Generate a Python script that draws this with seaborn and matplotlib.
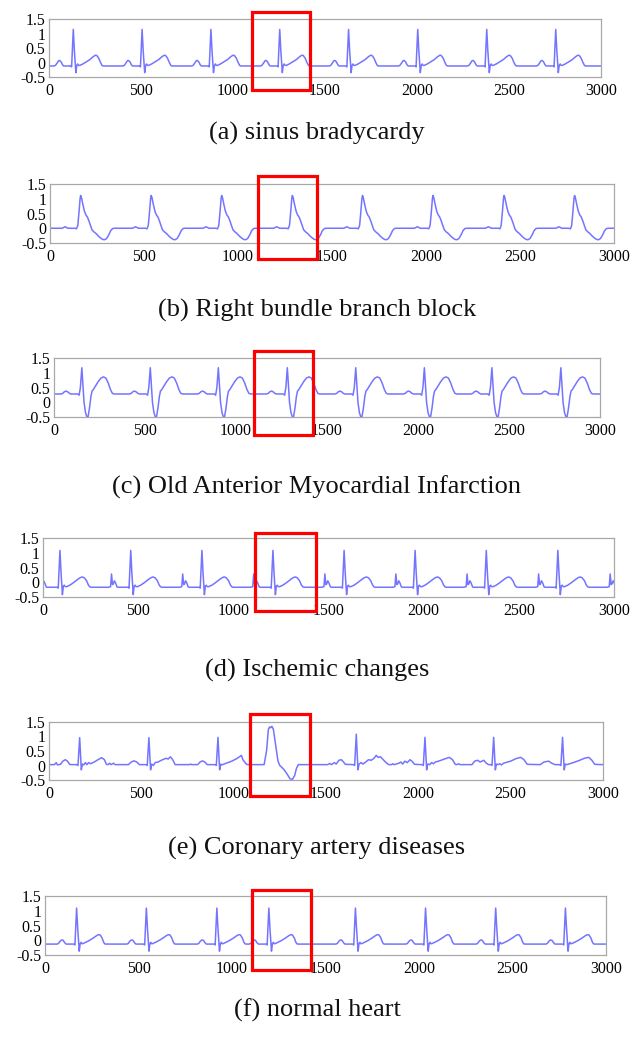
import numpy as np
import pandas as pd
import matplotlib
matplotlib.use("Agg")
import matplotlib.pyplot as plt
import seaborn as sns
from matplotlib.patches import Rectangle

# ---------------- data ----------------
captions = ["(a) sinus bradycardy", "(b) Right bundle branch block",
            "(c) Old Anterior Myocardial Infarction", "(d) Ischemic changes",
            "(e) Coronary artery diseases", "(f) normal heart"]
x_ticks = [0, 500, 1000, 1500, 2000, 2500, 3000]
x_tick_labels = ["0", "500", "1000", "1500", "2000", "2500", "3000"]
y_ticks = [-0.5, 0, 0.5, 1, 1.5]
y_tick_labels = ["-0.5", "0", "0.5", "1", "1.5"]

# (a) sinus bradycardy: R-peak positions and one-beat shape (offset from R, amplitude)
beats_a = [132, 506, 880, 1254, 1628, 2004, 2379, 2754]
beat_a_dx = [-105, -97, -88, -80, -74, -66, -58, -52, -14, -9, 0, 6, 14, 19, 24, 29, 35, 52, 70, 90, 108, 120, 128, 138, 148, 156, 162]
beat_a_y = [-0.12, -0.1, -0.02, 0.06, 0.07, 0.02, -0.08, -0.12, -0.12, -0.15, 1.14, 0.4, -0.35, -0.1, -0.05, -0.1, -0.1, -0.05, 0.02, 0.1, 0.2, 0.25, 0.24, 0.15, 0.0, -0.1, -0.12]
base_a = -0.12

# (b) right bundle branch block
beats_b = [163, 538, 913, 1289, 1662, 2037, 2415, 2790]
beat_b_dx = [-100, -92, -84, -76, -68, -30, -22, -15, -8, -3, 0, 4, 12, 20, 28, 36, 44, 52, 60, 70, 82, 95, 108, 118, 127, 138, 150, 160, 170, 180]
beat_b_y = [0.0, 0.02, 0.05, 0.03, 0.0, 0.0, -0.02, 0.1, 0.6, 1.0, 1.11, 1.05, 0.8, 0.58, 0.45, 0.38, 0.25, 0.1, -0.05, -0.12, -0.18, -0.27, -0.34, -0.38, -0.39, -0.35, -0.22, -0.08, -0.01, 0.0]
base_b = 0.0

# (c) old anterior myocardial infarction
beats_c = [153, 529, 903, 1282, 1658, 2035, 2406, 2785]
beat_c_dx = [-115, -105, -97, -87, -77, -68, -60, -22, -15, -8, 0, 6, 12, 20, 28, 34, 42, 50, 56, 62, 75, 90, 105, 119, 132, 145, 158, 168, 178]
beat_c_y = [0.28, 0.3, 0.35, 0.38, 0.35, 0.3, 0.28, 0.28, 0.24, 0.5, 1.17, 0.6, 0.0, -0.35, -0.5, -0.5, -0.2, 0.2, 0.38, 0.42, 0.55, 0.7, 0.82, 0.86, 0.82, 0.65, 0.42, 0.3, 0.28]
base_c = 0.28

# (d) ischemic changes
beats_d = [89, 461, 835, 1208, 1582, 1955, 2329, 2705, 3081]
beat_d_dx = [-118, -106, -101, -96, -91, -86, -80, -72, -66, -14, -9, 0, 6, 13, 18, 23, 28, 35, 52, 70, 90, 105, 117, 128, 140, 150, 158, 165]
beat_d_y = [-0.17, -0.15, 0.28, -0.08, -0.05, 0.05, -0.02, -0.16, -0.17, -0.17, -0.2, 1.08, 0.3, -0.42, -0.13, -0.1, -0.15, -0.15, -0.1, -0.02, 0.08, 0.15, 0.18, 0.15, 0.05, -0.1, -0.16, -0.17]
base_d = -0.17

# (e) coronary artery diseases: the whole trace, vertex by vertex
trace_e_x = [0, 30, 39, 46, 62, 75, 88, 100, 112, 120, 150, 157, 166, 175, 181, 188, 197, 205, 215, 225, 245, 265, 285, 300, 311, 320, 328, 336, 350, 358,
             430, 445, 460, 475, 490, 525, 532, 541, 550, 556, 565, 575, 590, 615, 635, 645, 657, 670, 683, 760, 766, 772,
             805, 818, 831, 844, 857, 899, 906, 915, 924, 930, 936, 960, 990, 1020, 1042, 1050, 1056, 1062, 1070, 1077,
             1165, 1178, 1188, 1195, 1200, 1207, 1215, 1225, 1240, 1250, 1270, 1290, 1305, 1318, 1330, 1340, 1350,
             1510, 1520, 1530, 1545, 1555, 1570, 1583, 1595, 1605, 1648, 1655, 1664, 1673, 1679, 1690, 1700, 1715, 1730, 1745, 1760, 1772, 1782, 1795, 1810, 1825, 1840,
             1855, 1862, 1870, 1895, 1905, 1915, 1927, 1940, 1955, 1965, 1980, 2020, 2027, 2036, 2045, 2051, 2062, 2072, 2082, 2092, 2110, 2140, 2168, 2185, 2200,
             2210, 2218, 2226, 2290, 2305, 2321, 2335, 2354, 2368, 2380, 2392, 2399, 2408, 2417, 2423, 2432, 2440, 2450, 2462, 2500, 2530, 2555, 2572, 2590,
             2660, 2680, 2706, 2722, 2740, 2765, 2772, 2781, 2790, 2796, 2805, 2830, 2870, 2900, 2923, 2940, 2955, 3000]
trace_e_y = [0.03, 0.03, 0.1, 0.02, 0.04, 0.15, 0.2, 0.15, 0.04, 0.03, 0.03, 0.0, 0.96, -0.15, 0.05, 0.02, 0.1, 0.03, 0.1, 0.06, 0.12, 0.2, 0.27, 0.2, 0.04, 0.03, 0.08, 0.03, 0.08, 0.03,
             0.03, 0.12, 0.16, 0.12, 0.03, 0.03, 0.0, 0.96, -0.15, 0.05, 0.0, 0.1, 0.12, 0.2, 0.25, 0.22, 0.3, 0.2, 0.03, 0.03, 0.05, 0.03,
             0.03, 0.12, 0.16, 0.12, 0.03, 0.03, 0.0, 0.97, -0.15, 0.05, 0.02, 0.08, 0.15, 0.25, 0.35, 0.2, 0.15, 0.1, 0.04, 0.03,
             0.03, 0.5, 1.25, 1.33, 1.3, 1.35, 1.25, 0.8, 0.15, 0.0, -0.12, -0.3, -0.46, -0.48, -0.35, -0.1, 0.03,
             0.03, 0.07, 0.03, 0.1, 0.05, 0.18, 0.2, 0.12, 0.04, 0.03, 0.0, 1.08, -0.15, 0.05, 0.1, 0.05, 0.12, 0.2, 0.18, 0.25, 0.35, 0.28, 0.3, 0.2, 0.1, 0.03,
             0.03, 0.06, 0.03, 0.08, 0.12, 0.05, 0.15, 0.1, 0.2, 0.15, 0.04, 0.03, 0.0, 0.97, -0.15, 0.05, 0.03, 0.1, 0.06, 0.12, 0.15, 0.22, 0.28, 0.2, 0.04,
             0.03, 0.06, 0.03, 0.03, 0.15, 0.18, 0.12, 0.18, 0.08, 0.03, 0.03, 0.0, 0.97, -0.15, 0.05, 0.03, 0.06, 0.02, 0.08, 0.15, 0.24, 0.28, 0.2, 0.04,
             0.03, 0.12, 0.15, 0.08, 0.03, 0.03, 0.0, 0.97, -0.15, 0.05, 0.03, 0.08, 0.17, 0.25, 0.28, 0.18, 0.04, 0.03]

# (f) normal heart
beats_f = [169, 542, 919, 1197, 1660, 2035, 2410, 2783]
beat_f_dx = [-105, -97, -88, -80, -72, -64, -56, -14, -9, 0, 6, 14, 19, 24, 29, 35, 52, 70, 90, 108, 118, 126, 136, 144, 150, 156]
beat_f_y = [-0.13, -0.11, -0.03, 0.01, 0.0, -0.08, -0.13, -0.13, -0.16, 1.09, 0.4, -0.37, -0.12, -0.07, -0.12, -0.11, -0.06, 0.0, 0.08, 0.16, 0.19, 0.18, 0.08, -0.06, -0.12, -0.13]
base_f = -0.13

# highlighted window (red box) per panel: x0, x1, y0, y1 in data units
boxes = [(1103, 1418, -0.96, 1.73), (1106, 1420, -1.04, 1.76), (1099, 1423, -1.12, 1.74),
         (1114, 1434, -0.98, 1.66), (1088, 1413, -1.04, 1.76), (1107, 1422, -1.0, 1.7)]

# ---------------- build traces ----------------
def build(beats, dx, ys, base):
    xs_out, ys_out = [-200.0], [base]
    for b in beats:
        xs_out += [b + d for d in dx]
        ys_out += list(ys)
    xs_out.append(3300.0)
    ys_out.append(base)
    return xs_out, ys_out

traces = [build(beats_a, beat_a_dx, beat_a_y, base_a),
          build(beats_b, beat_b_dx, beat_b_y, base_b),
          build(beats_c, beat_c_dx, beat_c_y, base_c),
          build(beats_d, beat_d_dx, beat_d_y, base_d),
          (trace_e_x, trace_e_y),
          build(beats_f, beat_f_dx, beat_f_y, base_f)]

# ---------------- layout (pixels) ----------------
W, H = 632, 1039
axes_px = [(49, 601, 19, 77), (50, 614, 184, 243), (54, 600, 358, 417),
           (43, 614, 538, 597), (49, 603, 722, 780), (45, 606, 896, 955)]
caption_y = [133, 310, 487, 670, 848, 1010]

sns.set_style("white")
plt.rcParams['font.family'] = ['Liberation Serif', 'DejaVu Serif']
plt.rcParams['axes.unicode_minus'] = False

fig = plt.figure(figsize=(W / 100, H / 100), dpi=100)
LINE = "#7474ff"
FRAME = "#a8a8a8"

for i, ((l, r, t, b), (xs, ys)) in enumerate(zip(axes_px, traces)):
    ax = fig.add_axes([l / W, 1 - b / H, (r - l) / W, (b - t) / H])
    df = pd.DataFrame({"x": xs, "y": ys})
    sns.lineplot(data=df, x="x", y="y", ax=ax, sort=False, estimator=None,
                 color=LINE, linewidth=1.1)
    ax.set_xlim(0, 3000)
    ax.set_ylim(-0.5, 1.5)
    ax.set_xlabel("")
    ax.set_ylabel("")
    ax.set_xticks(x_ticks)
    ax.set_xticklabels(x_tick_labels)
    ax.set_xticks([250, 750, 1250, 1750, 2250, 2750], minor=True)
    ax.set_yticks(y_ticks)
    ax.set_yticklabels(y_tick_labels)
    for s in ax.spines.values():
        s.set_color(FRAME)
        s.set_linewidth(0.9)
    ax.tick_params(axis="both", which="both", direction="out", length=3,
                   width=0.8, color=FRAME, labelsize=11.4, pad=1.5,
                   labelcolor="black")
    ax.tick_params(axis="y", pad=0.5, length=2)
    x0, x1, y0, y1 = boxes[i]
    ax.add_patch(Rectangle((x0, y0), x1 - x0, y1 - y0, fill=False,
                           edgecolor="#ff0000", linewidth=2.3,
                           clip_on=False, zorder=6))
    fig.text(317 / W, 1 - caption_y[i] / H, captions[i], ha="center",
             va="center", fontsize=19, color="#111111")

fig.savefig("out.png", dpi=100)
